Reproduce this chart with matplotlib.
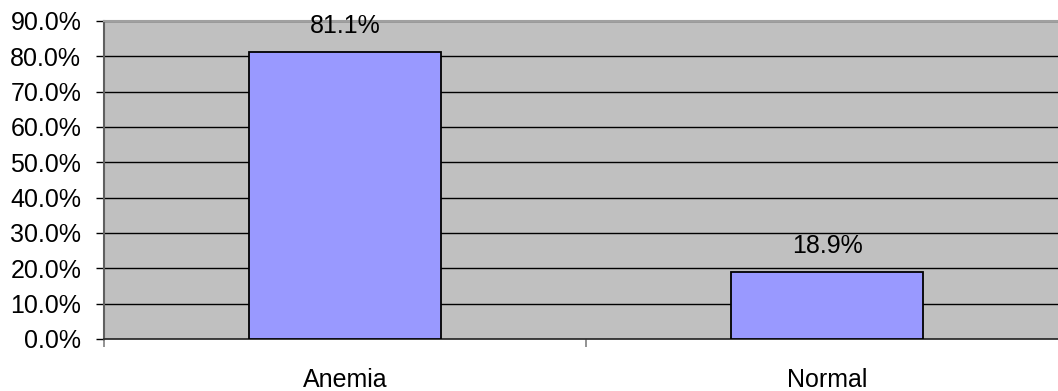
import numpy as np
import matplotlib.pyplot as plt

plt.rcParams['font.family'] = ['Liberation Sans', 'DejaVu Sans']

categories = ['Anemia', 'Normal']
percent = [81.1, 18.9]
yticks = np.arange(0, 91, 10)

fig = plt.figure(figsize=(10.58, 3.91), dpi=100)
# plot area runs a little past the right edge of the image
ax = fig.add_axes([104 / 1058, 1 - 339 / 391, 964 / 1058, 318 / 391])
ax.set_facecolor('#C0C0C0')

x = np.arange(len(categories))
ax.bar(x, percent, width=0.4, color='#9999FF', edgecolor='black', linewidth=1.3, zorder=3)
for xi, v in zip(x, percent):
    ax.text(xi, v + 5.5, f'{v:.1f}%', ha='center', va='baseline', fontsize=18)

ax.set_xlim(-0.5, 1.5)
ax.set_ylim(0, 90)
ax.set_yticks(yticks)
ax.set_yticklabels([f'{t:.1f}%' for t in yticks], fontsize=18)
ax.yaxis.grid(True, color='black', linewidth=1.0, zorder=1)
ax.set_axisbelow(True)

ax.set_xticks(x)
ax.set_xticklabels(categories, fontsize=18)
ax.tick_params(axis='x', length=0, pad=21)
ax.set_xticks([-0.5, 0.5, 1.5], minor=True)
ax.tick_params(axis='x', which='minor', length=5.8, color='#808080', width=1.2)
ax.tick_params(axis='y', length=5.8, width=1.0, pad=10.5)

ax.spines['left'].set_color('#606060')
ax.spines['left'].set_linewidth(1.5)
ax.spines['bottom'].set_color('#303030')
ax.spines['bottom'].set_linewidth(1.3)
ax.spines['top'].set_color('#A0A0A0')
ax.spines['top'].set_linewidth(1.5)
ax.spines['right'].set_visible(False)

fig.savefig('out.png', dpi=100)
